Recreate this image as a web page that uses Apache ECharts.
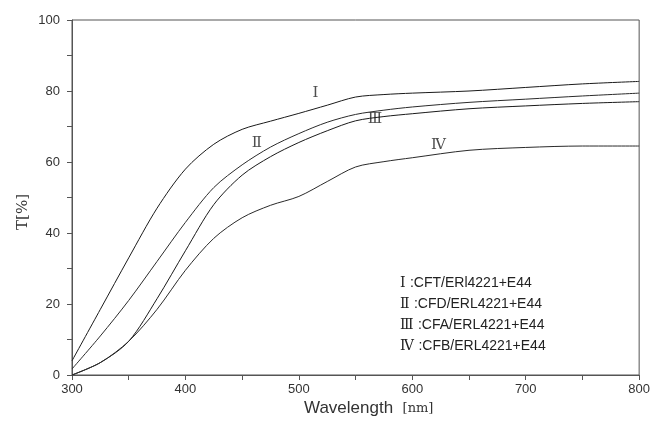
<!DOCTYPE html>
<html><head><meta charset="utf-8">
<script src="https://cdn.jsdelivr.net/npm/echarts@6/dist/echarts.min.js"></script>
<style>html,body{margin:0;padding:0;background:#fff}#c{width:653px;height:432px}</style>
</head><body><div id="c"></div>
<script>
const wavelength = [300, 325, 350, 375, 400, 425, 450, 475, 500, 525, 550, 575, 600, 650, 700, 750, 800];
const curveI   = [4, 18.5, 33, 47, 58, 65, 69.2, 71.5, 73.7, 76, 78.3, 79, 79.4, 80, 81, 82, 82.7];
const curveII  = [1.7, 11, 21, 32, 43, 52.8, 59.2, 64.2, 68, 71.2, 73.4, 74.6, 75.5, 76.8, 77.7, 78.6, 79.4];
const curveIII = [0, 3.5, 9.5, 21.5, 35, 48, 56.3, 61.5, 65.5, 68.8, 71.6, 72.8, 73.6, 75, 75.8, 76.5, 77];
const curveIV  = [0, 3.5, 9.5, 18.5, 29.5, 38.5, 44.3, 47.8, 50.3, 54.5, 58.6, 60.1, 61.2, 63.3, 64.1, 64.5, 64.5];
const seriesNames = ['Ⅰ', 'Ⅱ', 'Ⅲ', 'Ⅳ'];
const legendTexts = [':CFT/ERl4221+E44', ':CFD/ERL4221+E44', ':CFA/ERL4221+E44', ':CFB/ERL4221+E44'];
const curveLabelX = [514.7, 463, 567, 623];
const curveLabelY = [79.3, 65.3, 72, 64.8];
const xTicks = [300, 400, 500, 600, 700, 800];
const yTicks = [0, 20, 40, 60, 80, 100];

const chart = echarts.init(document.getElementById('c'));
const allCurves = [curveI, curveII, curveIII, curveIV];
const colors = ['#1a1a1a', '#2a2a2a', '#1a1a1a', '#2a2a2a'];
const series = allCurves.map((c, i) => ({
  type: 'line', name: seriesNames[i], smooth: 0.3, symbol: 'none',
  lineStyle: {color: colors[i], width: 1},
  data: wavelength.map((w, j) => [w, c[j]])
}));
series.push({
  type: 'scatter', symbolSize: 0, silent: true,
  data: curveLabelX.map((x, i) => [x, curveLabelY[i], seriesNames[i]]),
  label: {show: true, position: 'inside', formatter: p => p.data[2],
    fontFamily: 'DejaVu Serif', fontSize: 15, color: '#222'}
});
const graphics = legendTexts.map((t, i) => ({
  type: 'text', left: 400, top: 276 + i * 21.2,
  style: {rich: {r: {fontFamily: 'DejaVu Serif', fontSize: 14, fill: '#222'}, t: {fontFamily: 'Liberation Sans', fontSize: 14, fill: '#222'}},
    text: '{r|' + seriesNames[i] + ' }{t|' + t + '}'}
}));
graphics.push({
  type: 'text', left: 304, top: 400,
  style: {rich: {a: {fontFamily: 'Liberation Sans', fontSize: 17, fill: '#333'}, b: {fontFamily: 'DejaVu Serif', fontSize: 13, fill: '#333'}},
    text: '{a|Wavelength  }{b|[nm]}'}
});
graphics.push({
  type: 'text', x: 23, y: 212, rotation: Math.PI / 2,
  style: {text: 'T[%]', fontFamily: 'DejaVu Serif', fontSize: 15, fill: '#333', align: 'center', verticalAlign: 'middle'}
});
chart.setOption({
  animation: false,
  grid: {left: 72, right: 8, top: 20, bottom: 57, show: true, borderColor: '#555', borderWidth: 1},
  xAxis: {type: 'value', min: 300, max: 800, interval: 50,
    axisLine: {lineStyle: {color: '#555'}}, splitLine: {show: false},
    axisTick: {length: 5, lineStyle: {color: '#555'}},
    axisLabel: {fontFamily: 'Liberation Sans', fontSize: 13, color: '#333', margin: 8,
      formatter: v => xTicks.includes(v) ? String(v) : ''}},
  yAxis: {type: 'value', min: 0, max: 100, interval: 10,
    axisLine: {show: true, lineStyle: {color: '#555'}}, splitLine: {show: false},
    axisTick: {show: true, length: 5, lineStyle: {color: '#555'}},
    axisLabel: {fontFamily: 'Liberation Sans', fontSize: 13, color: '#333', margin: 12,
      formatter: v => yTicks.includes(v) ? String(v) : ''}},
  graphic: graphics,
  series: series
});
</script></body></html>
